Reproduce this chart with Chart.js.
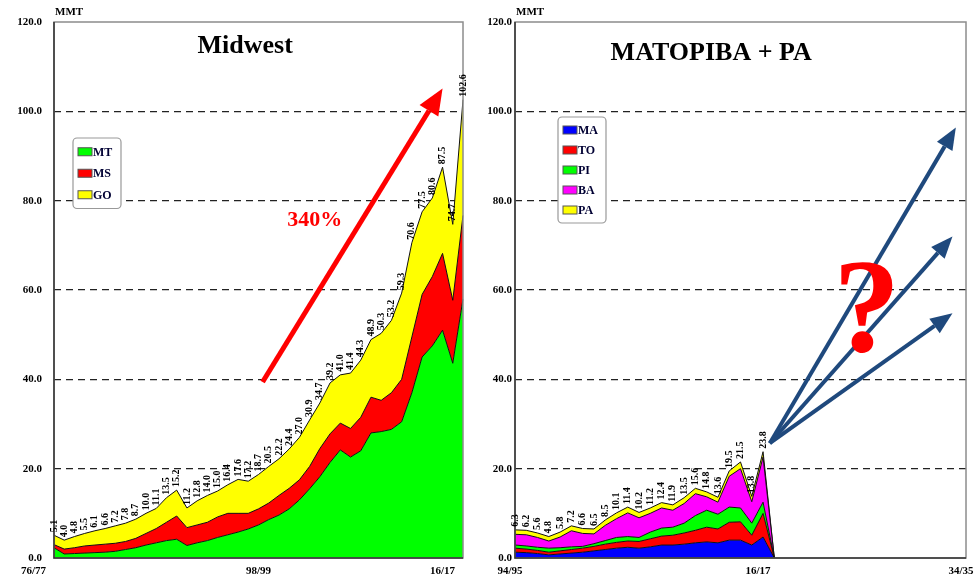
<!DOCTYPE html>
<html>
<head>
<meta charset="utf-8">
<script src="https://cdn.jsdelivr.net/npm/chart.js@4.4.1/dist/chart.umd.min.js"></script>
<style>
  html, body { margin: 0; padding: 0; background: #fff; }
  #wrap { position: relative; width: 978px; height: 584px; overflow: hidden; }
  .panel { position: absolute; top: 0; height: 584px; }
</style>
</head>
<body>
<div id="wrap">
  <div class="panel" style="left:0;width:480px"><canvas id="midwest"></canvas></div>
  <div class="panel" style="left:480px;width:498px"><canvas id="matopiba"></canvas></div>
</div>
<script>
const SERIF = '"Liberation Serif", "DejaVu Serif", serif';

// ---- Midwest (left) ----
const midwestSeasons = ["76/77","77/78","78/79","79/80","80/81","81/82","82/83","83/84","84/85","85/86",
  "86/87","87/88","88/89","89/90","90/91","91/92","92/93","93/94","94/95","95/96",
  "96/97","97/98","98/99","99/00","00/01","01/02","02/03","03/04","04/05","05/06",
  "06/07","07/08","08/09","09/10","10/11","11/12","12/13","13/14","14/15","15/16","16/17"];
const midwestTicks = ["76/77", "98/99", "16/17"];
const mtValues = [2.3,0.9,1.0,1.1,1.2,1.3,1.5,1.9,2.3,2.9,3.4,3.9,4.2,2.8,3.4,3.9,4.6,5.2,5.8,6.5,
  7.4,8.6,9.6,11.0,13.0,15.5,18.2,21.4,24.2,22.6,24.0,28.0,28.3,28.8,30.5,37.0,45.0,47.5,51.0,43.6,58.0];
const msValues = [0.7,1.1,1.3,1.6,1.7,1.8,1.8,1.8,2.1,2.6,3.2,4.1,5.2,4.0,4.0,4.1,4.6,4.8,4.2,3.5,
  3.6,3.7,4.4,4.6,4.5,5.0,6.3,6.4,6.0,6.4,7.5,8.0,7.0,8.2,9.5,12.5,14.0,15.5,17.2,14.1,18.7];
const goValues = [2.1,2.0,2.5,2.8,3.2,3.5,3.9,4.1,4.3,4.5,4.5,5.5,5.8,4.4,5.4,6.0,5.8,6.4,7.6,7.2,
  7.7,8.2,8.2,8.8,9.5,10.4,10.2,11.4,10.8,12.4,12.8,12.9,15.0,16.2,19.3,21.1,18.5,17.6,19.3,17.0,25.9];

// ---- MATOPIBA + PA (right) ----
const matopibaSeasons = ["94/95","95/96","96/97","97/98","98/99","99/00","00/01","01/02","02/03","03/04",
  "04/05","05/06","06/07","07/08","08/09","09/10","10/11","11/12","12/13","13/14",
  "14/15","15/16","16/17","17/18","18/19","19/20","20/21","21/22","22/23","23/24",
  "24/25","25/26","26/27","27/28","28/29","29/30","30/31","31/32","32/33","33/34","34/35"];
const matopibaTicks = ["94/95", "16/17", "34/35"];
const maValues = [1.3,1.2,1.0,0.7,0.9,1.1,1.3,1.6,1.9,2.2,2.4,2.2,2.5,2.9,2.9,3.1,3.4,3.6,3.4,4.0,4.0,2.9,4.7,0];
const toValues = [0.9,0.8,0.7,0.6,0.7,0.8,0.9,1.0,1.2,1.3,1.4,1.5,1.8,2.0,2.2,2.5,2.8,3.3,3.1,4.0,4.1,2.2,5.3,0];
const piValues = [0.7,0.7,0.7,0.9,0.7,0.6,0.4,0.6,0.8,1.1,1.0,0.9,1.5,1.8,1.8,2.2,3.3,3.8,3.3,3.4,3.1,2.7,2.5,0];
const baValues = [2.4,2.5,2.2,1.6,2.4,3.6,2.9,2.2,3.4,4.2,5.3,4.4,4.2,4.5,3.8,4.4,4.9,3.0,2.7,6.9,8.8,4.8,10.1,0];
const paValues = [1.0,1.0,1.0,1.0,1.1,1.1,1.1,1.1,1.2,1.3,1.3,1.2,1.2,1.2,1.2,1.3,1.2,1.1,1.1,1.2,1.5,1.2,1.2,0];
const labelledPoints = 23;

const yTicks = [0, 20, 40, 60, 80, 100, 120];

function drawArrow(ctx, x1, y1, x2, y2, color, w, hl, hw) {
  const ang = Math.atan2(y2 - y1, x2 - x1);
  const bx = x2 - hl * Math.cos(ang), by = y2 - hl * Math.sin(ang);
  ctx.strokeStyle = color;
  ctx.lineWidth = w;
  ctx.beginPath();
  ctx.moveTo(x1, y1);
  ctx.lineTo(bx, by);
  ctx.stroke();
  ctx.fillStyle = color;
  ctx.beginPath();
  ctx.moveTo(x2, y2);
  ctx.lineTo(bx + hw / 2 * Math.sin(ang), by - hw / 2 * Math.cos(ang));
  ctx.lineTo(bx - hw / 2 * Math.sin(ang), by + hw / 2 * Math.cos(ang));
  ctx.closePath();
  ctx.fill();
}

function decor(cfg) {
  return {
    id: 'decor',
    afterDatasetsDraw(chart) {
      const ctx = chart.ctx;
      const a = chart.chartArea;
      const xs = chart.scales.x, ys = chart.scales.y;
      const px = (i, v) => [xs.getPixelForValue(i), ys.getPixelForValue(v)];
      ctx.save();

      // frame
      ctx.strokeStyle = '#8c8c8c';
      ctx.lineWidth = 1.5;
      ctx.strokeRect(a.left, a.top, a.right - a.left, a.bottom - a.top);
      ctx.strokeStyle = '#333';
      ctx.beginPath();
      ctx.moveTo(a.left, a.top);
      ctx.lineTo(a.left, a.bottom);
      ctx.lineTo(a.right, a.bottom);
      ctx.stroke();

      // value labels above the stack
      const sets = chart.data.datasets;
      const top = chart.getDatasetMeta(sets.length - 1);
      ctx.font = 'bold 10px ' + SERIF;
      ctx.fillStyle = '#000';
      ctx.textAlign = 'left';
      ctx.textBaseline = 'middle';
      for (let i = 0; i < cfg.labelCount; i++) {
        const pt = top.data[i];
        let total = 0;
        sets.forEach(d => { total += d.data[i]; });
        ctx.save();
        ctx.translate(pt.x, pt.y - 3);
        ctx.rotate(-Math.PI / 2);
        ctx.fillText(total.toFixed(1), 0, 0);
        ctx.restore();
      }

      // unit
      ctx.font = 'bold 11px ' + SERIF;
      ctx.textAlign = 'left';
      ctx.textBaseline = 'alphabetic';
      ctx.fillText('MMT', a.left + 1, 15);

      // title
      const t = px(cfg.title.at[0], cfg.title.at[1]);
      ctx.font = 'bold ' + cfg.title.size + 'px ' + SERIF;
      ctx.textAlign = 'center';
      ctx.textBaseline = 'middle';
      ctx.fillStyle = '#000';
      ctx.fillText(cfg.title.text, t[0], t[1]);

      // legend box
      const L = cfg.legend;
      const lx = a.left + L.dx, ly = a.top + L.dy;
      ctx.fillStyle = '#fff';
      ctx.strokeStyle = '#999';
      ctx.lineWidth = 1.2;
      ctx.beginPath();
      ctx.roundRect(lx, ly, L.w, L.rowH * sets.length + 6, 4);
      ctx.fill();
      ctx.stroke();
      ctx.font = 'bold 12px ' + SERIF;
      ctx.textAlign = 'left';
      ctx.textBaseline = 'middle';
      sets.forEach((d, k) => {
        const ry = ly + 3 + L.rowH * (k + 0.5);
        ctx.fillStyle = d.backgroundColor;
        ctx.fillRect(lx + 5, ry - 4, 14, 8);
        ctx.strokeStyle = '#555';
        ctx.lineWidth = 1;
        ctx.strokeRect(lx + 5, ry - 4, 14, 8);
        ctx.fillStyle = '#000033';
        ctx.fillText(d.label, lx + 20, ry + 1);
      });

      // arrows
      cfg.arrows.forEach(ar => {
        const p1 = px(ar.from[0], ar.from[1]);
        const p2 = px(ar.to[0], ar.to[1]);
        drawArrow(ctx, p1[0], p1[1], p2[0], p2[1], ar.color, ar.width, ar.head[0], ar.head[1]);
      });

      // free texts
      cfg.texts.forEach(tx => {
        const p = px(tx.at[0], tx.at[1]);
        ctx.font = 'bold ' + tx.size + 'px ' + SERIF;
        ctx.fillStyle = tx.color;
        ctx.textAlign = 'center';
        ctx.textBaseline = 'alphabetic';
        ctx.fillText(tx.text, p[0], p[1]);
      });

      ctx.restore();
    }
  };
}

function buildChart(id, labels, tickLabels, series, cfg) {
  const datasets = series.map((s, k) => ({
    label: s.label,
    data: s.data,
    backgroundColor: s.color,
    borderColor: '#111',
    borderWidth: 1,
    pointRadius: 0,
    tension: 0,
    fill: k === 0 ? 'origin' : '-1'
  }));

  new Chart(document.getElementById(id), {
    type: 'line',
    data: { labels, datasets },
    options: {
      responsive: true,
      maintainAspectRatio: false,
      animation: false,
      layout: { padding: { top: 22, right: cfg.padRight, left: 0, bottom: 0 } },
      plugins: { legend: { display: false }, tooltip: { enabled: false } },
      scales: {
        x: {
          type: 'category',
          offset: false,
          grid: { display: false, drawTicks: false },
          border: { display: false },
          ticks: {
            autoSkip: false,
            maxRotation: 0,
            align: cfg.xAlign,
            labelOffset: cfg.xLabelOffset,
            padding: 7,
            color: '#000',
            font: { family: SERIF, weight: 'bold', size: 11 },
            callback: (v, i) => tickLabels.includes(labels[i]) ? labels[i] : ''
          },
          afterFit: s => { s.height = 26; s.paddingLeft = 0; s.paddingRight = 0; }
        },
        y: {
          stacked: true,
          min: 0,
          max: 120,
          afterBuildTicks: s => { s.ticks = yTicks.map(v => ({ value: v })); },
          grid: {
            drawTicks: false,
            color: c => (c.tick.value === 0 || c.tick.value === 120) ? 'rgba(0,0,0,0)' : '#222',
            lineWidth: 1.2
          },
          border: { display: false, dash: [7, 5] },
          ticks: {
            padding: cfg.yPad,
            color: '#000',
            font: { family: SERIF, weight: 'bold', size: 11 },
            callback: v => Number(v).toFixed(1)
          },
          afterFit: s => { s.width = cfg.yWidth; }
        }
      }
    },
    plugins: [decor(cfg)]
  });
}

buildChart('midwest', midwestSeasons, midwestTicks, [
  { label: 'MT', data: mtValues, color: '#00ff00' },
  { label: 'MS', data: msValues, color: '#ff0000' },
  { label: 'GO', data: goValues, color: '#ffff00' }
], {
  padRight: 17, yWidth: 54, yPad: 12, xAlign: 'end', xLabelOffset: -8,
  labelCount: midwestSeasons.length,
  title: { text: 'Midwest', at: [18.7, 114.5], size: 26 },
  legend: { dx: 19, dy: 116, w: 48, rowH: 21.5 },
  arrows: [{ from: [20.4, 39.4], to: [38.0, 105.1], color: '#ff0000', width: 5, head: [26, 22] }],
  texts: [{ text: '340%', at: [25.5, 74.3], size: 22, color: '#ff0000' }]
});

buildChart('matopiba', matopibaSeasons, matopibaTicks, [
  { label: 'MA', data: maValues, color: '#0000ff' },
  { label: 'TO', data: toValues, color: '#ff0000' },
  { label: 'PI', data: piValues, color: '#00ff00' },
  { label: 'BA', data: baValues, color: '#ff00ff' },
  { label: 'PA', data: paValues, color: '#ffff00' }
], {
  padRight: 12, yWidth: 35, yPad: 3, xAlign: 'center', xLabelOffset: -5,
  labelCount: labelledPoints,
  title: { text: 'MATOPIBA + PA', at: [17.4, 113.0], size: 26 },
  legend: { dx: 43, dy: 95, w: 48, rowH: 20 },
  arrows: [
    { from: [22.6, 25.7], to: [39.1, 96.4], color: '#1f497d', width: 4, head: [22, 18] },
    { from: [22.6, 25.7], to: [38.8, 72.0], color: '#1f497d', width: 4, head: [22, 18] },
    { from: [22.6, 25.7], to: [38.8, 54.8], color: '#1f497d', width: 4, head: [22, 18] }
  ],
  texts: [{ text: '?', at: [31.2, 46.3], size: 134, color: '#ff0000' }]
});
</script>
</body>
</html>
